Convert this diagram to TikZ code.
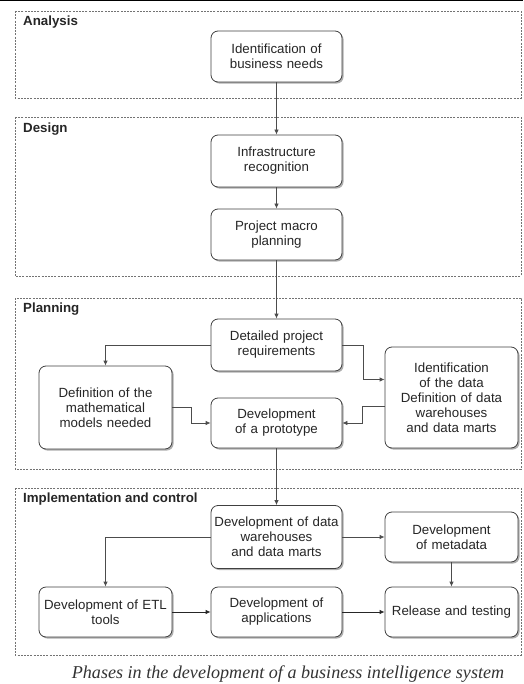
\documentclass[tikz,border=0pt]{standalone}
\usepackage{fontspec}
\setmainfont{Liberation Sans}
\newfontfamily\capfont{Liberation Serif}
\usetikzlibrary{arrows.meta,shadows,calc}
\begin{document}
\begin{tikzpicture}[x=1pt,y=-1pt,
  phase/.style={draw=black!55,dash pattern=on 2pt off 1.2pt,line width=0.6pt},
  phasetitle/.style={anchor=base west,inner sep=0pt,font=\fontsize{13.3}{15}\selectfont\bfseries,text=black!85},
  stepbox/.style={draw=black!75,line width=0.8pt,rounded corners=7pt,fill=white,
     align=center,inner sep=0pt,font=\fontsize{13.3}{15}\selectfont,text=black!85,
     drop shadow={shadow xshift=1.6pt,shadow yshift=-1.6pt,fill=black!45,opacity=0.7}},
  conn/.style={draw=black!70,line width=0.8pt,-{Latex[length=5pt,width=4.5pt]}}
]
\useasboundingbox (0,0) rectangle (523,684);
\fill[black] (0,0) rectangle (523,1.5);
% phases
\draw[phase] (15,11) rectangle (521,98);
\draw[phase] (15,117) rectangle (521,276);
\draw[phase] (15,298) rectangle (521,469);
\draw[phase] (15,488) rectangle (521,655);
\node[phasetitle] (tA) at (23,26) {Analysis};
\node[phasetitle] (tD) at (23,133) {Design};
\node[phasetitle] (tP) at (23,312) {Planning};
\node[phasetitle] (tI) at (23,502) {Implementation and control};
% nodes
\node[stepbox,minimum width=131pt,minimum height=51pt,text width=131pt] (n1) at (276.5,56.5) {Identification of\\business needs};
\node[stepbox,minimum width=131pt,minimum height=52pt,text width=131pt] (n2) at (276.5,161) {Infrastructure\\recognition};
\node[stepbox,minimum width=131pt,minimum height=51pt,text width=131pt] (n3) at (276.5,234.5) {Project macro\\planning};
\node[stepbox,minimum width=131pt,minimum height=52pt,text width=131pt] (n4) at (276.5,345) {Detailed project\\requirements};
\node[stepbox,minimum width=133pt,minimum height=83pt,text width=133pt] (n5) at (105.5,407.5) {Definition of the\\mathematical\\models needed};
\node[stepbox,minimum width=131pt,minimum height=50pt,text width=131pt] (n6) at (276.5,423) {Development\\of a prototype};
\node[stepbox,minimum width=133pt,minimum height=101pt,text width=133pt] (n7) at (451.5,397.5) {Identification\\of the data\\Definition of data\\warehouses\\and data marts};
\node[stepbox,minimum width=131pt,minimum height=63pt,text width=131pt] (n8) at (276.5,537) {Development of data\\warehouses\\and data marts};
\node[stepbox,minimum width=133pt,minimum height=50pt,text width=133pt] (n9) at (451.5,537) {Development\\of metadata};
\node[stepbox,minimum width=133pt,minimum height=50pt,text width=133pt] (n10) at (105.5,612) {Development of ETL\\tools};
\node[stepbox,minimum width=131pt,minimum height=50pt,text width=131pt] (n11) at (276.5,612) {Development of\\applications};
\node[stepbox,minimum width=133pt,minimum height=50pt,text width=133pt] (n12) at (451.5,612) {Release and testing};
% connectors
\draw[conn] (n1.south) -- (n2.north);
\draw[conn] (n2.south) -- (n3.north);
\draw[conn] (n3.south) -- (n4.north);
\draw[conn] (n4.west) -| (n5.north);
\draw[conn] (n4.east) -- ++(21,0) |- ([yshift=18pt]n7.west);
\draw[conn] (n5.east) -- ++(19,0) |- (n6.west);
\draw[conn] ([yshift=-9pt]n7.west) -- ++(-22,0) |- (n6.east);
\draw[conn] (n6.south) -- (n8.north);
\draw[conn] (n8.west) -| (n10.north);
\draw[conn] (n8.east) -- (n9.west);
\draw[conn] (n9.south) -- (n12.north);
\draw[conn,draw=black!85] (n10.east) -- (n11.west);
\draw[conn,draw=black!85] (n11.east) -- (n12.west);
% caption
\node[anchor=base,inner sep=0pt,font=\capfont\itshape\fontsize{18.1}{20}\selectfont,text=black!80] (cap) at (288,678) {Phases in the development of a business intelligence system};
\end{tikzpicture}
\end{document}
